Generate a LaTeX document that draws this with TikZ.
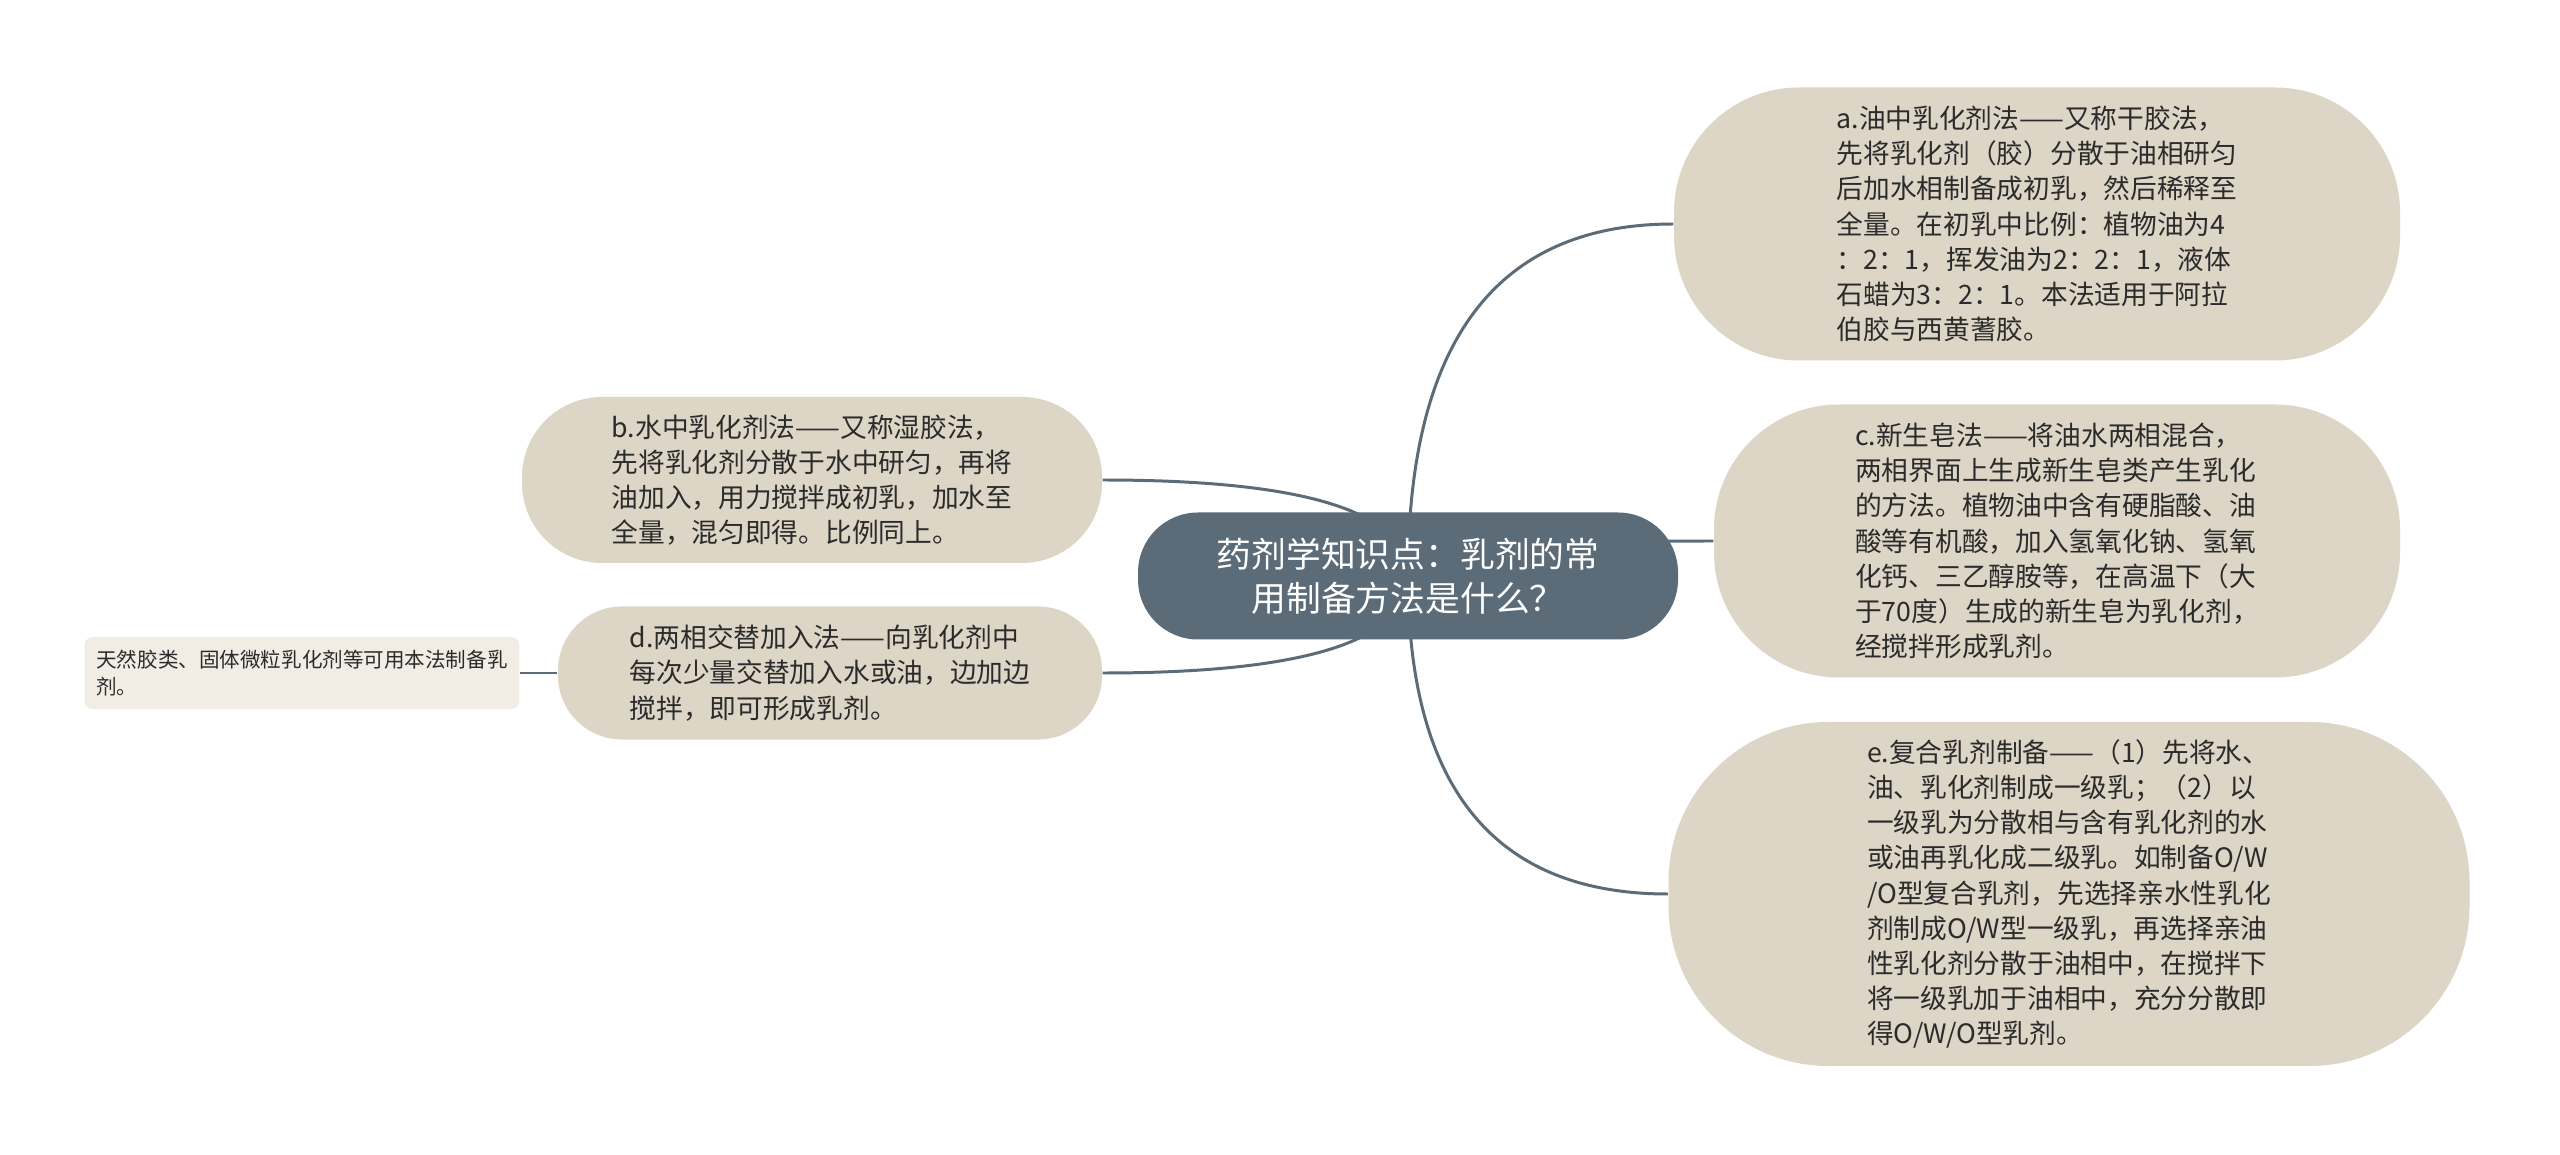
\documentclass[tikz,border=0pt]{standalone}
\usepackage{fontspec}
\setmainfont{Noto Sans CJK SC}
\usepackage{tikz}
\usetikzlibrary{positioning,calc,backgrounds}

\definecolor{rootfill}{HTML}{5B6B77}
\definecolor{topicfill}{HTML}{DDD5C6}
\definecolor{leaffill}{HTML}{F1EDE5}
\definecolor{textdark}{HTML}{2B2B2B}

\tikzset{
  rootbox/.style={fill=rootfill, text=white, align=center, rounded corners=0.6cm,
    font=\fontsize{9.9pt}{12.5pt}\selectfont},
  topic/.style={fill=topicfill, text=textdark, align=left, rounded corners=#1,
    font=\fontsize{7.6pt}{10pt}\selectfont},
  leafbox/.style={fill=leaffill, text=textdark, align=left, rounded corners=0.08cm,
    font=\fontsize{5.85pt}{7.9pt}\selectfont},
  link/.style={draw=rootfill, line width=0.85pt}
}

\begin{document}
\begin{tikzpicture}
\useasboundingbox (0,0) rectangle (25.6,11.54);

% centre
\node[rootbox, minimum width=5.4cm, minimum height=1.27cm] (root) at (14.08,5.78)
  {药剂学知识点：乳剂的常\\用制备方法是什么？};

% right side
\node[topic=1.25cm, minimum width=7.26cm, minimum height=2.73cm] (a) at (20.37,9.30)
  {a.油中乳化剂法——又称干胶法，\\先将乳化剂（胶）分散于油相研匀\\后加水相制备成初乳，然后稀释至\\全量。在初乳中比例：植物油为4\\：2：1，挥发油为2：2：1，液体\\石蜡为3：2：1。本法适用于阿拉\\伯胶与西黄蓍胶。};
\node[topic=1.25cm, minimum width=6.86cm, minimum height=2.73cm] (c) at (20.57,6.13)
  {c.新生皂法——将油水两相混合，\\两相界面上生成新生皂类产生乳化\\的方法。植物油中含有硬脂酸、油\\酸等有机酸，加入氢氧化钠、氢氧\\化钙、三乙醇胺等，在高温下（大\\于70度）生成的新生皂为乳化剂，\\经搅拌形成乳剂。};
\node[topic=1.6cm, minimum width=8.01cm, minimum height=3.44cm] (e) at (20.69,2.60)
  {e.复合乳剂制备——（1）先将水、\\油、乳化剂制成一级乳；（2）以\\一级乳为分散相与含有乳化剂的水\\或油再乳化成二级乳。如制备O/W\\/O型复合乳剂，先选择亲水性乳化\\剂制成O/W型一级乳，再选择亲油\\性乳化剂分散于油相中，在搅拌下\\将一级乳加于油相中，充分分散即\\得O/W/O型乳剂。};

% left side
\node[topic=0.8cm, minimum width=5.8cm, minimum height=1.66cm] (b) at (8.12,6.74)
  {b.水中乳化剂法——又称湿胶法，\\先将乳化剂分散于水中研匀，再将\\油加入，用力搅拌成初乳，加水至\\全量，混匀即得。比例同上。};
\node[topic=0.64cm, minimum width=5.44cm, minimum height=1.33cm] (d) at (8.30,4.81)
  {d.两相交替加入法——向乳化剂中\\每次少量交替加入水或油，边加边\\搅拌，即可形成乳剂。};
\node[leafbox, minimum width=4.34cm, minimum height=0.72cm] (leaf) at (3.02,4.81)
  {天然胶类、固体微粒乳化剂等可用本法制备乳\\剂。};

% connectors
\begin{scope}[on background layer]
\fill[white] (0,0) rectangle (25.6,11.54);
\foreach \t in {a,c,e}
  \draw[link] (root.center) .. controls ($(root.center)!2/3!(root.center|-\t.west)$)
    and ($(\t.west)!2/3!(root.center|-\t.west)$) .. (\t.west);
\foreach \t in {b,d}
  \draw[link] (root.center) .. controls ($(root.center)!2/3!(root.center|-\t.east)$)
    and ($(\t.east)!2/3!(root.center|-\t.east)$) .. (\t.east);
\draw[link] (leaf.east) -- (d.west);
\end{scope}
\end{tikzpicture}
\end{document}
